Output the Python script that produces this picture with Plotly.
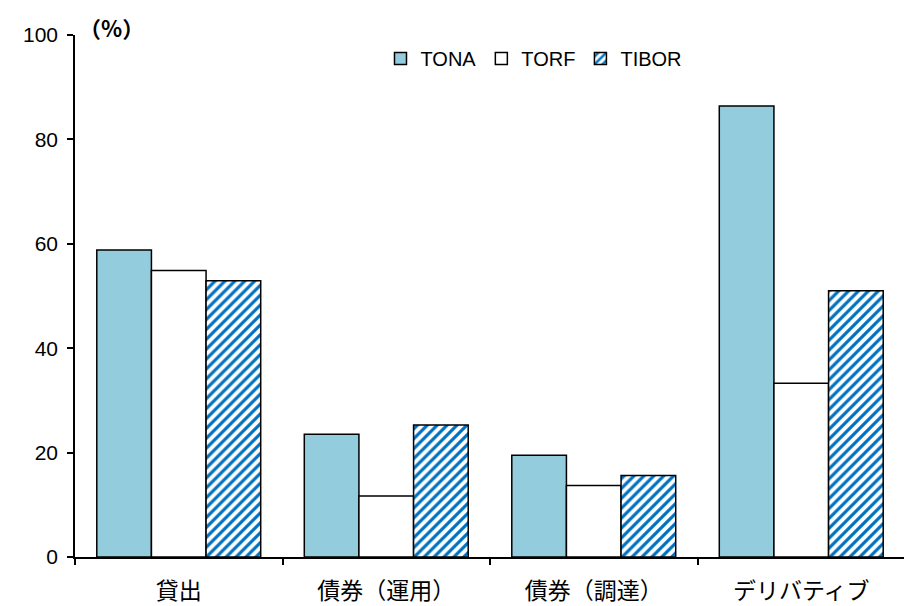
import plotly.graph_objects as go

categories = ["貸出", "債券（運用）", "債券（調達）", "デリバティブ"]
tona = [58.8, 23.5, 19.5, 86.4]
torf = [54.9, 11.7, 13.7, 33.3]
tibor = [52.9, 25.3, 15.6, 51.0]
series_names = ["TONA", "TORF", "TIBOR"]
y_ticks = [0, 20, 40, 60, 80, 100]

FONT = "Noto Sans CJK JP, Liberation Sans, sans-serif"
NUMF = "Liberation Sans, sans-serif"

fig = go.Figure()
fig.add_trace(go.Bar(
    x=categories, y=tona, name=series_names[0],
    marker=dict(color="#93CDDD", line=dict(color="black", width=1.5)),
))
fig.add_trace(go.Bar(
    x=categories, y=torf, name=series_names[1],
    marker=dict(color="white", line=dict(color="black", width=1.5)),
))
fig.add_trace(go.Bar(
    x=categories, y=tibor, name=series_names[2],
    marker=dict(color="white", line=dict(color="black", width=1.5),
                pattern=dict(shape="/", fgcolor="#0070C0", bgcolor="white",
                             size=7, solidity=0.45, fillmode="replace")),
))

fig.update_layout(
    width=912, height=606,
    margin=dict(l=67, r=15, t=27, b=57),
    paper_bgcolor="white", plot_bgcolor="white",
    barmode="group", bargap=0.21, bargroupgap=0,
    font=dict(family=FONT, size=18, color="black"),
    showlegend=True,
    legend=dict(orientation="h", x=0.553, xanchor="center", y=0.955, yanchor="middle",
                font=dict(size=20, family=NUMF), itemwidth=30, traceorder="normal",
                bgcolor="rgba(0,0,0,0)"),
    xaxis=dict(
        type="category", showline=True, linecolor="black", linewidth=1.5,
        ticks="outside", ticklen=6, tickcolor="black", tickwidth=1.5,
        tickson="boundaries", showgrid=False, zeroline=False, automargin=False,
        tickfont=dict(size=23), ticklabelstandoff=13, range=[-0.5, 3.5],
    ),
    yaxis=dict(
        range=[0, 100], tickvals=y_ticks, showline=True, linecolor="black",
        linewidth=1.5, ticks="outside", ticklen=6, tickcolor="black",
        tickwidth=1.5, showgrid=False, zeroline=False, automargin=False,
        tickfont=dict(size=21, family=NUMF), ticklabelstandoff=5,
    ),
    annotations=[dict(
        text="<b>（%）</b>", xref="paper", yref="paper", x=0.0, y=1.0,
        xanchor="left", yanchor="bottom", showarrow=False,
        font=dict(size=22), xshift=2, yshift=-10,
    )],
)

fig.write_html("out.html")
